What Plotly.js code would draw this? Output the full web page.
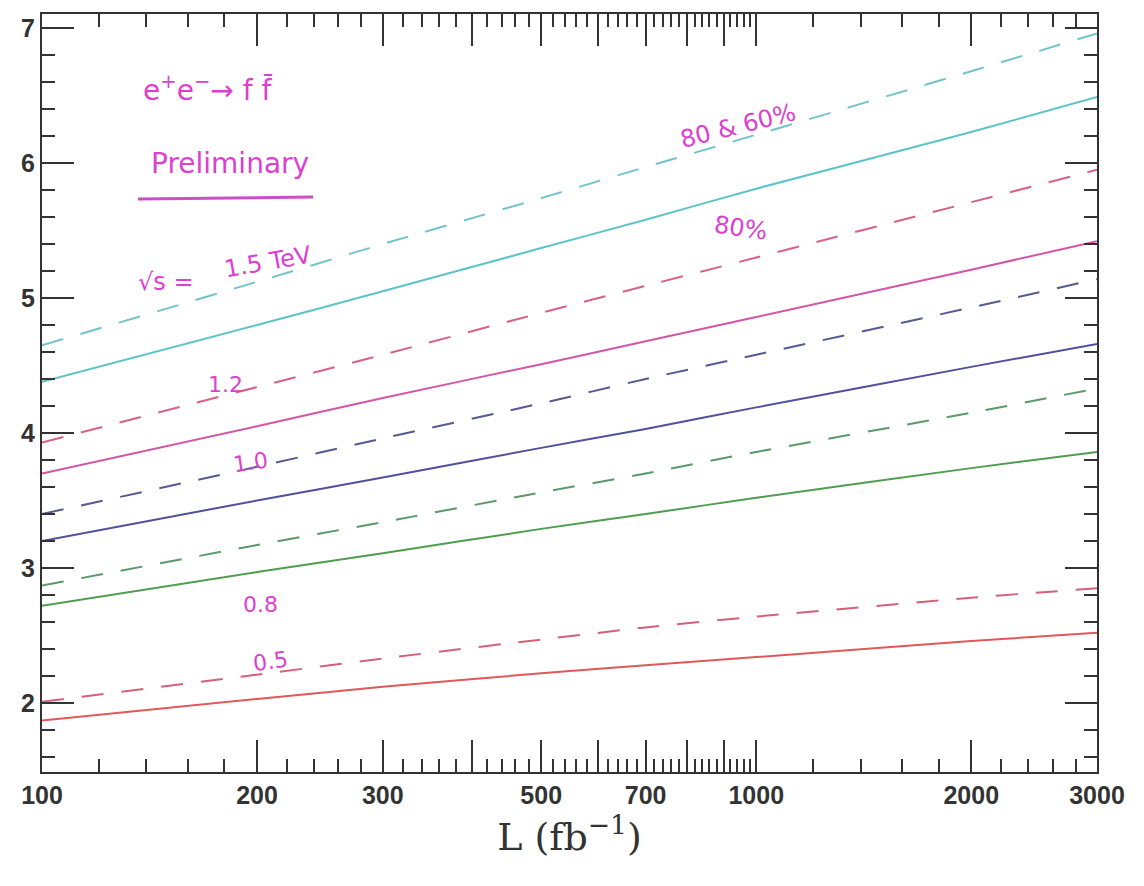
<!DOCTYPE html>
<html>
<head>
<meta charset="utf-8">
<script src="https://cdn.plot.ly/plotly-3.0.1.min.js"></script>
<style>html,body{margin:0;padding:0;background:#fff;}#chart{width:1144px;height:886px;}</style>
</head>
<body>
<div id="chart"></div>
<script>
// Luminosity values (fb^-1)
const lumi = [100, 200, 300, 500, 700, 1000, 2000, 3000];

// sqrt(s) labels
const energies = ['0.5', '0.8', '1.0', '1.2', '1.5 TeV'];

// Reach values: solid = 80% polarisation, dashed = 80% & 60%
const reach15_80   = [4.38, 4.80, 5.05, 5.37, 5.58, 5.81, 6.23, 6.49];
const reach15_8060 = [4.65, 5.12, 5.40, 5.74, 5.97, 6.21, 6.68, 6.96];
const reach12_80   = [3.70, 4.05, 4.26, 4.51, 4.68, 4.86, 5.21, 5.42];
const reach12_8060 = [3.93, 4.34, 4.58, 4.89, 5.09, 5.30, 5.71, 5.95];
const reach10_80   = [3.20, 3.50, 3.67, 3.89, 4.03, 4.19, 4.49, 4.66];
const reach10_8060 = [3.40, 3.75, 3.96, 4.22, 4.40, 4.58, 4.93, 5.14];
const reach08_80   = [2.72, 2.97, 3.11, 3.29, 3.40, 3.52, 3.74, 3.86];
const reach08_8060 = [2.87, 3.17, 3.34, 3.56, 3.70, 3.86, 4.15, 4.33];
const reach05_80   = [1.87, 2.03, 2.12, 2.22, 2.28, 2.34, 2.46, 2.52];
const reach05_8060 = [2.01, 2.21, 2.33, 2.47, 2.56, 2.64, 2.78, 2.85];

// Axis ticks
const xMajorVals = [100, 200, 300, 400, 500, 600, 700, 800, 900, 1000, 2000, 3000];
const xMajorText = ['100', '200', '300', '', '500', '', '700', '', '', '1000', '2000', '3000'];
const xMinorVals = [];
for (let v = 120; v < 1000; v += 20) { if (v % 100 !== 0) xMinorVals.push(v); }
for (let v = 1200; v < 3000; v += 200) { if (v % 1000 !== 0) xMinorVals.push(v); }
const yMajorVals = [2, 3, 4, 5, 6, 7];
const yMinorVals = [];
for (let i = 8; i <= 35; i++) { const v = i / 5; if (Math.abs(v - Math.round(v)) > 1e-6) yMinorVals.push(v); }

const colors = {
  '1.5': '#5cc4c8',
  '1.2': '#d455a8',
  '1.0': '#50509c',
  '0.8': '#4f9e4f',
  '0.5': '#e0585a'
};
const dashColors = {
  '1.5': '#72c4c8',
  '1.2': '#d8608a',
  '1.0': '#545a92',
  '0.8': '#5a9a6a',
  '0.5': '#d4607a'
};

const series = [
  ['1.5', reach15_80, reach15_8060],
  ['1.2', reach12_80, reach12_8060],
  ['1.0', reach10_80, reach10_8060],
  ['0.8', reach08_80, reach08_8060],
  ['0.5', reach05_80, reach05_8060]
];

const traces = [];
series.forEach(([e, solid, dashed]) => {
  traces.push({x: lumi, y: dashed, mode: 'lines', line: {color: dashColors[e], width: 2, dash: '22px,18px', shape: 'spline', smoothing: 0.6}, name: e + ' (80/60%)', hoverinfo: 'x+y'});
  traces.push({x: lumi, y: solid, mode: 'lines', line: {color: colors[e], width: 2, shape: 'spline', smoothing: 0.6}, name: e + ' (80%)', hoverinfo: 'x+y'});
});

// helpers for paper coords from the 1144x886 frame
const L = 42, R = 1097, T = 14, B = 772;
const px = x => (x - L) / (R - L);
const py = y => (B - y) / (B - T);

const hand = {family: 'DejaVu Sans, sans-serif', size: 22, color: '#dd3fd0'};
const ann = (text, x, y, angle, size) => ({
  text: text, xref: 'paper', yref: 'paper', x: px(x), y: py(y),
  xanchor: 'center', yanchor: 'middle', showarrow: false, textangle: angle || 0,
  font: Object.assign({}, hand, size ? {size: size} : {})
});

const axisCommon = {
  showline: true, linecolor: '#333', linewidth: 2, mirror: 'allticks',
  ticks: 'inside', ticklen: 32, tickwidth: 2, tickcolor: '#333',
  showgrid: false, zeroline: false,
  tickfont: {family: 'Liberation Sans, Arial, sans-serif', size: 25, color: '#333', weight: 'bold'}
};

const layout = {
  width: 1144, height: 886,
  margin: {l: L, r: 1144 - R, t: T, b: 886 - B},
  paper_bgcolor: '#fff', plot_bgcolor: '#fff',
  showlegend: false,
  xaxis: Object.assign({}, axisCommon, {
    type: 'log', range: [2, Math.log10(3000)],
    tickmode: 'array', tickvals: xMajorVals, ticktext: xMajorText,
    minor: {tickmode: 'array', tickvals: xMinorVals, ticks: 'inside', ticklen: 13, tickwidth: 2, tickcolor: '#333', showgrid: false},
    title: {text: 'L (fb<sup>\u22121</sup>)', font: {family: 'DejaVu Serif, serif', size: 38, color: '#333'}, standoff: 12}
  }),
  yaxis: Object.assign({}, axisCommon, {
    range: [1.489, 7.104],
    tickmode: 'array', tickvals: yMajorVals, ticktext: yMajorVals.map(String),
    minor: {tickmode: 'array', tickvals: yMinorVals, ticks: 'inside', ticklen: 13, tickwidth: 2, tickcolor: '#333', showgrid: false}
  }),
  shapes: [
    {type: 'line', xref: 'paper', yref: 'paper', x0: px(138), x1: px(313), y0: py(199), y1: py(197), line: {color: '#c84fc8', width: 3}}
  ],
  annotations: [
    ann('e<sup>+</sup>e<sup>\u2212</sup>\u2192 f f\u0304', 208, 88, 0, 28),
    ann('Preliminary', 230, 163, 0, 28),
    ann('\u221As =', 166, 282, 0, 24),
    ann(energies[4], 268, 262, -10, 24),
    ann('80 & 60%', 738, 126, -14, 24),
    ann('80%', 740, 228, 8, 24),
    ann(energies[3], 225, 384, 0, 22),
    ann(energies[2], 250, 462, -8, 22),
    ann(energies[1], 260, 604, 0, 22),
    ann(energies[0], 270, 661, -8, 22)
  ]
};

Plotly.newPlot('chart', traces, layout, {staticPlot: true, displayModeBar: false});
</script>
</body>
</html>
